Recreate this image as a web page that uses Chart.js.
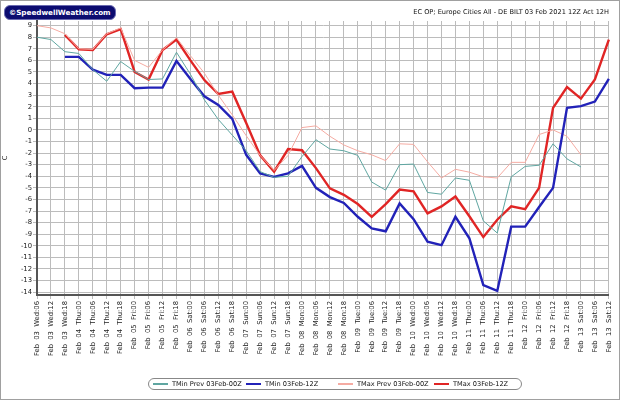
<!DOCTYPE html>
<html>
<head>
<meta charset="utf-8">
<script src="https://cdn.jsdelivr.net/npm/chart.js@4"></script>
<style>
  html, body { margin: 0; padding: 0; background: #fff; }
  #frame { position: relative; width: 620px; height: 400px; box-sizing: border-box; border: 1px solid #a0a0a0; overflow: hidden; font-family: 'DejaVu Sans', sans-serif; }
  #logo { position: absolute; left: 3px; top: 4px; height: 13px; line-height: 13px; padding: 0 4px; background: #0c0c70; color: #fff; font-weight: bold; font-size: 7.2px; border-radius: 6px; border: 1px solid #6a6ab0; }
  #title { position: absolute; right: 10px; top: 7px; font-size: 6.6px; color: #111; }
  #wrap { position: absolute; left: 0; top: 0; width: 618px; height: 398px; }
  #legend { position: absolute; left: 147px; top: 377px; width: 374px; height: 12px; border: 1px solid #888; border-radius: 7px; box-sizing: border-box; }
  .item { position: absolute; top: 0; height: 10px; line-height: 10px; font-size: 6.6px; color: #111; white-space: nowrap; }
  .item i { display: inline-block; width: 15px; vertical-align: middle; margin-right: 4px; }
</style>
</head>
<body>
<div id="frame">
  <div id="wrap"><canvas id="chart"></canvas></div>
  <div id="logo">©SpeedwellWeather.com</div>
  <div id="title">EC OP; Europe Cities All - DE BILT 03 Feb 2021 12Z Act 12H</div>
  <div id="legend"></div>
</div>
<script>
// 6-hourly steps, Feb 03 06Z .. Feb 13 12Z
const labels = [
  'Feb  03  Wed:06', 'Feb  03  Wed:12', 'Feb  03  Wed:18',
  'Feb  04  Thu:00', 'Feb  04  Thu:06', 'Feb  04  Thu:12', 'Feb  04  Thu:18',
  'Feb  05  Fri:00', 'Feb  05  Fri:06', 'Feb  05  Fri:12', 'Feb  05  Fri:18',
  'Feb  06  Sat:00', 'Feb  06  Sat:06', 'Feb  06  Sat:12', 'Feb  06  Sat:18',
  'Feb  07  Sun:00', 'Feb  07  Sun:06', 'Feb  07  Sun:12', 'Feb  07  Sun:18',
  'Feb  08  Mon:00', 'Feb  08  Mon:06', 'Feb  08  Mon:12', 'Feb  08  Mon:18',
  'Feb  09  Tue:00', 'Feb  09  Tue:06', 'Feb  09  Tue:12', 'Feb  09  Tue:18',
  'Feb  10  Wed:00', 'Feb  10  Wed:06', 'Feb  10  Wed:12', 'Feb  10  Wed:18',
  'Feb  11  Thu:00', 'Feb  11  Thu:06', 'Feb  11  Thu:12', 'Feb  11  Thu:18',
  'Feb  12  Fri:00', 'Feb  12  Fri:06', 'Feb  12  Fri:12', 'Feb  12  Fri:18',
  'Feb  13  Sat:00', 'Feb  13  Sat:06', 'Feb  13  Sat:12'
];

const tminPrev = [8.0, 7.8, 6.75, 6.6, 5.2, 4.2, 5.9, 5.05, 4.35, 4.4, 6.7, 4.8, 2.6, 0.9,
  -0.45, -1.8, -3.6, -4.1, -4.0, -2.3, -0.85, -1.65, -1.8, -2.2, -4.5, -5.2, -3.0, -2.95,
  -5.4, -5.55, -4.15, -4.35, -7.85, -8.9, -4.05, -3.15, -3.05, -1.2, -2.5, -3.2, null, null];

const tmin = [null, null, 6.3, 6.3, 5.2, 4.75, 4.75, 3.6, 3.65, 3.65, 5.95, 4.4, 2.9, 2.15,
  0.95, -2.15, -3.75, -4.05, -3.75, -3.1, -5.0, -5.8, -6.3, -7.5, -8.5, -8.75, -6.35, -7.7,
  -9.65, -9.95, -7.5, -9.35, -13.4, -13.9, -8.35, -8.35, -6.65, -5.0, 1.9, 2.05, 2.45, 4.4];

const tmaxPrev = [9.0, 8.8, 8.3, 7.0, 6.95, 8.3, 8.8, 6.0, 5.4, 6.9, 7.95, 6.4, 4.9, 3.0,
  1.3, -0.5, -2.2, -3.5, -2.2, 0.2, 0.35, -0.55, -1.3, -1.8, -2.15, -2.65, -1.2, -1.25,
  -2.75, -4.15, -3.4, -3.65, -4.05, -4.15, -2.8, -2.8, -0.4, 0.0, -0.55, -2.15, null, null];

const tmax = [null, null, 8.2, 6.95, 6.9, 8.25, 8.7, 5.0, 4.35, 6.9, 7.8, 6.0, 4.3, 3.1,
  3.3, 0.6, -2.2, -3.6, -1.65, -1.75, -3.3, -5.05, -5.6, -6.4, -7.5, -6.4, -5.15, -5.3,
  -7.2, -6.6, -5.75, -7.45, -9.25, -7.75, -6.6, -6.85, -5.0, 1.9, 3.7, 2.7, 4.35, 7.8];

const yTicks = [9, 8, 7, 6, 5, 4, 3, 2, 1, 0, -1, -2, -3, -4, -5, -6, -7, -8, -9, -10, -11, -12, -13, -14];

const seriesNames = ['TMin Prev 03Feb-00Z', 'TMin 03Feb-12Z', 'TMax Prev 03Feb-00Z', 'TMax 03Feb-12Z'];

const tickFont = { family: 'DejaVu Sans', size: 6.8 };

function ds(label, data, color, width) {
  return { label, data, borderColor: color, backgroundColor: color, borderWidth: width,
    pointRadius: 0, tension: 0, spanGaps: false, fill: false };
}

const chart = new Chart(document.getElementById('chart'), {
  type: 'line',
  data: {
    labels,
    datasets: [
      ds(seriesNames[0], tminPrev, '#5fa6a1', 1),
      ds(seriesNames[1], tmin, '#2222b8', 2.4),
      ds(seriesNames[2], tmaxPrev, '#f5aba2', 1),
      ds(seriesNames[3], tmax, '#e02525', 2.4),
    ]
  },
  options: {
    responsive: true,
    maintainAspectRatio: false,
    animation: false,
    layout: { padding: { top: 20, right: 5, left: 0, bottom: 0 } },
    plugins: { legend: { display: false }, tooltip: { enabled: false } },
    scales: {
      x: {
        offset: false,
        grid: { color: '#bcbcbc', tickLength: 4 },
        border: { display: true, color: '#555', width: 2 },
        ticks: { autoSkip: false, maxRotation: 90, minRotation: 90, font: tickFont, color: '#222', padding: 2 },
        afterFit: s => { s.height = 104; }
      },
      y: {
        min: -14.25,
        max: 9.4,
        afterBuildTicks: s => { s.ticks = yTicks.map(v => ({ value: v })); },
        grid: { color: '#bcbcbc', tickLength: 4 },
        border: { display: true, color: '#555', width: 2 },
        ticks: { font: tickFont, color: '#222', padding: 1 },
        title: { display: true, text: 'C', font: tickFont, color: '#222', padding: 0 },
        afterFit: s => { s.width = 36; }
      }
    }
  }
});

// html legend from the datasets
const lefts = [4, 97, 189, 285];
document.getElementById('legend').innerHTML = chart.data.datasets.map((d, i) =>
  `<div class="item" style="left:${lefts[i]}px"><i style="height:${d.borderWidth > 1 ? 2.5 : 1.5}px;background:${d.borderColor}"></i>${d.label}</div>`
).join('');
</script>
</body>
</html>
